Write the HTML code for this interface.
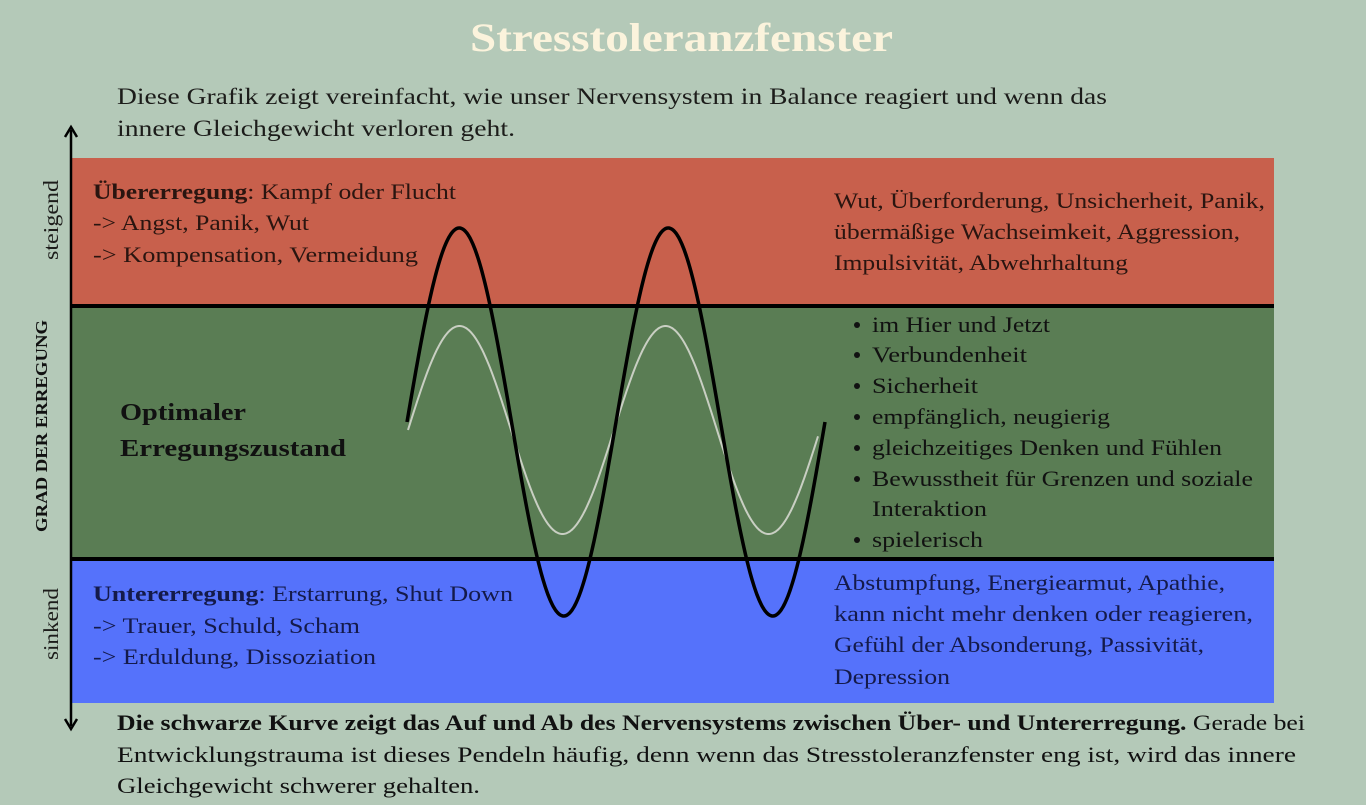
<!DOCTYPE html>
<html><head><meta charset="utf-8"><style>
html,body{margin:0;padding:0;background:#b4c9b8;}
svg{display:block}
text{font-family:"Liberation Serif",serif;}
</style></head><body>
<svg width="1366" height="805" viewBox="0 0 1366 805" xmlns="http://www.w3.org/2000/svg">
<rect width="1366" height="805" fill="#b4c9b8"/>
<text x="470" y="51" textLength="423" lengthAdjust="spacingAndGlyphs" font-size="40" font-weight="bold" fill="#fbf3dc">Stresstoleranzfenster</text>
<g font-size="23" fill="#1c1c1a">
<text x="117" y="104" textLength="990" lengthAdjust="spacingAndGlyphs">Diese Grafik zeigt vereinfacht, wie unser Nervensystem in Balance reagiert und wenn das</text>
<text x="117" y="136" textLength="398" lengthAdjust="spacingAndGlyphs">innere Gleichgewicht verloren geht.</text>
</g>
<rect x="72" y="158" width="1202" height="148" fill="#c8604c"/>
<rect x="72" y="306" width="1202" height="252" fill="#5a7d54"/>
<rect x="72" y="558" width="1202" height="145" fill="#5572fb"/>
<line x1="72" y1="306" x2="1274" y2="306" stroke="#000" stroke-width="4"/>
<line x1="72" y1="559" x2="1274" y2="559" stroke="#000" stroke-width="4"/>
<line x1="71" y1="130" x2="71" y2="726" stroke="#000" stroke-width="2.5"/>
<path d="M65,137 L71,127 L77,137" fill="none" stroke="#000" stroke-width="2.5"/>
<path d="M65,719 L71,729 L77,719" fill="none" stroke="#000" stroke-width="2.5"/>
<text transform="translate(58,220) rotate(-90)" text-anchor="middle" font-size="21" textLength="80" lengthAdjust="spacingAndGlyphs" fill="#1c1c1a">steigend</text>
<text transform="translate(47,426) rotate(-90)" text-anchor="middle" font-size="17" font-weight="bold" textLength="212" lengthAdjust="spacingAndGlyphs" fill="#111">GRAD DER ERREGUNG</text>
<text transform="translate(58,624) rotate(-90)" text-anchor="middle" font-size="21" textLength="72" lengthAdjust="spacingAndGlyphs" fill="#1c1c1a">sinkend</text>
<g font-size="22" fill="#2a1510">
<text x="93" y="199" textLength="363" lengthAdjust="spacingAndGlyphs"><tspan font-weight="bold">Übererregung</tspan>: Kampf oder Flucht</text>
<text x="93" y="230" textLength="216" lengthAdjust="spacingAndGlyphs">-&gt; Angst, Panik, Wut</text>
<text x="93" y="262" textLength="325" lengthAdjust="spacingAndGlyphs">-&gt; Kompensation, Vermeidung</text>
<text x="834" y="208" textLength="431" lengthAdjust="spacingAndGlyphs">Wut, Überforderung, Unsicherheit, Panik,</text>
<text x="834" y="239" textLength="406" lengthAdjust="spacingAndGlyphs">übermäßige Wachseimkeit, Aggression,</text>
<text x="834" y="270" textLength="294" lengthAdjust="spacingAndGlyphs">Impulsivität, Abwehrhaltung</text>
</g>
<g font-size="24" font-weight="bold" fill="#111">
<text x="120" y="420" textLength="126" lengthAdjust="spacingAndGlyphs">Optimaler</text>
<text x="120" y="456" textLength="226" lengthAdjust="spacingAndGlyphs">Erregungszustand</text>
</g>
<g font-size="22" fill="#111">
<text x="872" y="332" textLength="178" lengthAdjust="spacingAndGlyphs">im Hier und Jetzt</text>
<text x="872" y="362" textLength="155" lengthAdjust="spacingAndGlyphs">Verbundenheit</text>
<text x="872" y="393" textLength="106" lengthAdjust="spacingAndGlyphs">Sicherheit</text>
<text x="872" y="424" textLength="238" lengthAdjust="spacingAndGlyphs">empfänglich, neugierig</text>
<text x="872" y="455" textLength="350" lengthAdjust="spacingAndGlyphs">gleichzeitiges Denken und Fühlen</text>
<text x="872" y="486" textLength="381" lengthAdjust="spacingAndGlyphs">Bewusstheit für Grenzen und soziale</text>
<text x="872" y="516" textLength="115" lengthAdjust="spacingAndGlyphs">Interaktion</text>
<text x="872" y="547" textLength="111" lengthAdjust="spacingAndGlyphs">spielerisch</text>
</g>
<g fill="#111">
<circle cx="857" cy="325" r="3"/><circle cx="857" cy="355" r="3"/><circle cx="857" cy="386" r="3"/><circle cx="857" cy="417" r="3"/><circle cx="857" cy="448" r="3"/><circle cx="857" cy="479" r="3"/><circle cx="857" cy="540" r="3"/>
</g>
<g font-size="22" fill="#141a4a">
<text x="93" y="601" textLength="420" lengthAdjust="spacingAndGlyphs"><tspan font-weight="bold">Untererregung</tspan>: Erstarrung, Shut Down</text>
<text x="93" y="633" textLength="267" lengthAdjust="spacingAndGlyphs">-&gt; Trauer, Schuld, Scham</text>
<text x="93" y="664" textLength="283" lengthAdjust="spacingAndGlyphs">-&gt; Erduldung, Dissoziation</text>
<text x="834" y="590" textLength="391" lengthAdjust="spacingAndGlyphs">Abstumpfung, Energiearmut, Apathie,</text>
<text x="834" y="621" textLength="419" lengthAdjust="spacingAndGlyphs">kann nicht mehr denken oder reagieren,</text>
<text x="834" y="652" textLength="370" lengthAdjust="spacingAndGlyphs">Gefühl der Absonderung, Passivität,</text>
<text x="834" y="684" textLength="116" lengthAdjust="spacingAndGlyphs">Depression</text>
</g>
<g font-size="22" fill="#111">
<text x="117" y="730" textLength="1188" lengthAdjust="spacingAndGlyphs"><tspan font-weight="bold">Die schwarze Kurve zeigt das Auf und Ab des Nervensystems zwischen Über- und Untererregung.</tspan> Gerade bei</text>
<text x="117" y="762" textLength="1179" lengthAdjust="spacingAndGlyphs">Entwicklungstrauma ist dieses Pendeln häufig, denn wenn das Stresstoleranzfenster eng ist, wird das innere</text>
<text x="117" y="793" textLength="363" lengthAdjust="spacingAndGlyphs">Gleichgewicht schwerer gehalten.</text>
</g>
<path id="grey" fill="none" stroke="#c9cfc3" stroke-width="2"/>
<path id="black" fill="none" stroke="#000" stroke-width="3.5"/>
</svg>
<script>
function mk(x0,x1,mid,amp,half){var d='';for(var x=x0;x<=x1;x+=1){var y=mid-amp*Math.sin(Math.PI*(x-x0)/half);d+=(x==x0?'M':'L')+x+','+y.toFixed(1);}return d;}
document.getElementById('grey').setAttribute('d',mk(408,818,430,104,103));
document.getElementById('black').setAttribute('d',mk(407,825,422,194,104.5));
</script>
</body></html>
